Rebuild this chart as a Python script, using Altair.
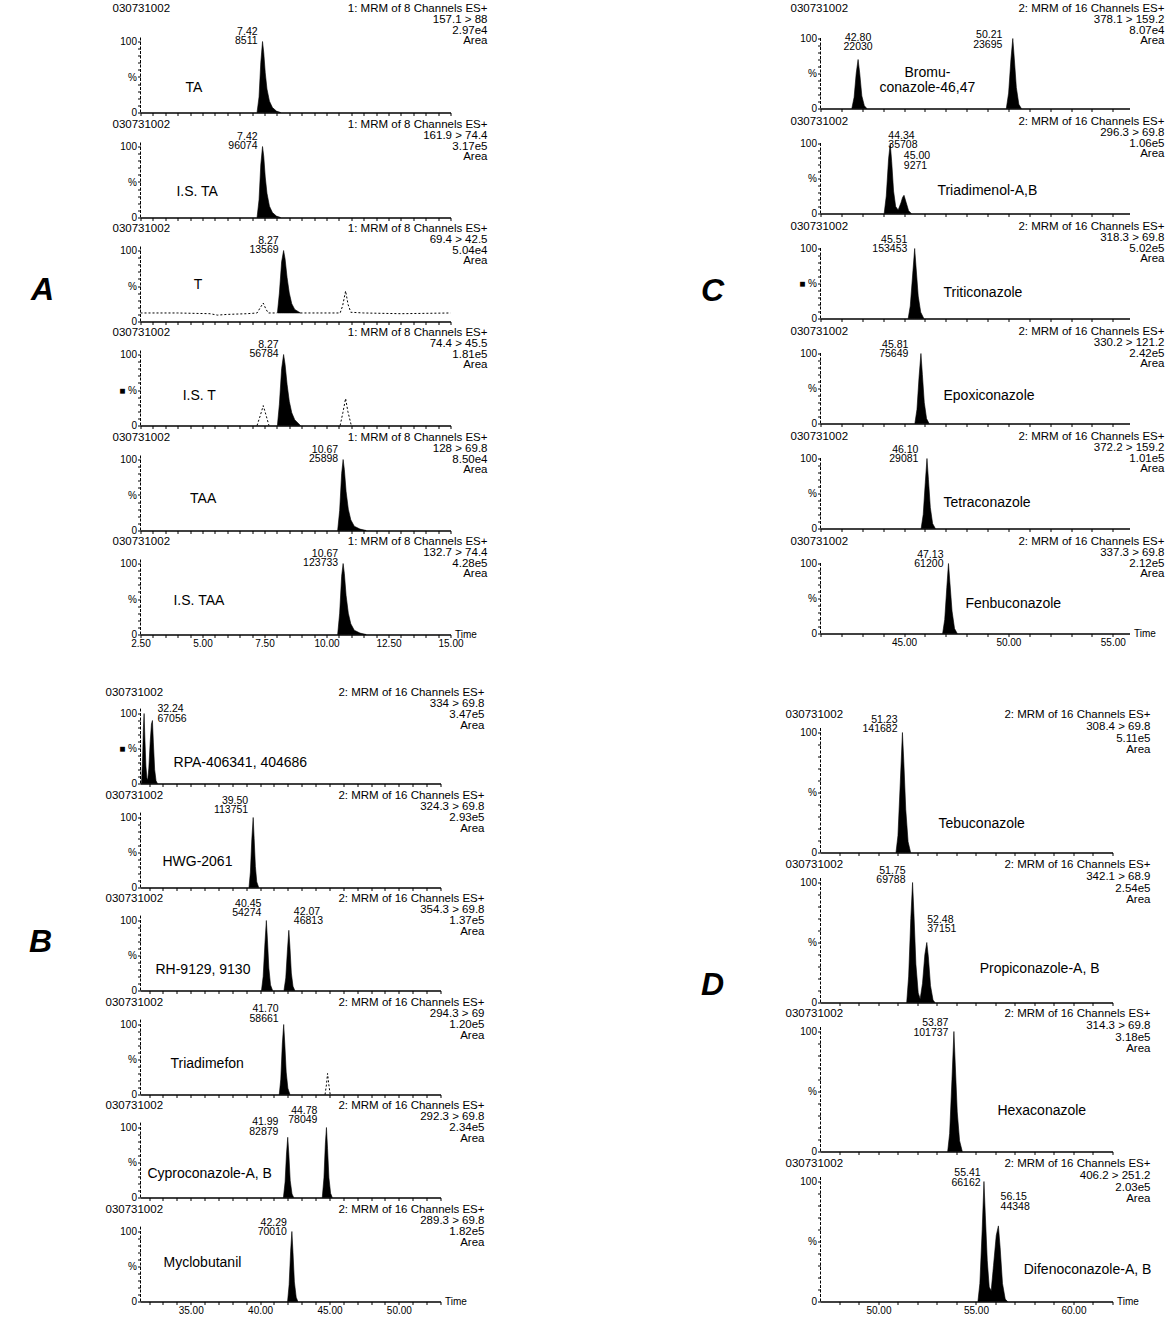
import math

import altair as alt
import pandas as pd

FONT = "Liberation Sans"
SAMPLE_ID = "030731002"
FUNCTION_8 = "1: MRM of 8 Channels ES+"
FUNCTION_16 = "2: MRM of 16 Channels ES+"

# ---------------- group A: triazole metabolites (function 1) ----------------
A_NAMES = ["TA", "I.S. TA", "T", "I.S. T", "TAA", "I.S. TAA"]
A_TRANSITIONS = ["157.1 > 88", "161.9 > 74.4", "69.4 > 42.5", "74.4 > 45.5", "128 > 69.8", "132.7 > 74.4"]
A_INTENSITIES = ["2.97e4", "3.17e5", "5.04e4", "1.81e5", "8.50e4", "4.28e5"]
A_PEAKS = [[(7.42, 8511)], [(7.42, 96074)], [(8.27, 13569)], [(8.27, 56784)],
           [(10.67, 25898)], [(10.67, 123733)]]
A_BASE = [0, 0, 12, 0, 0, 0]
A_TRACES = [
    [[(7.20, 0), (7.28, 22), (7.35, 70), (7.42, 100), (7.47, 84), (7.53, 56), (7.60, 33), (7.70, 16), (7.82, 7), (7.98, 2), (8.15, 0)]],
    [[(7.20, 0), (7.28, 25), (7.35, 74), (7.42, 100), (7.47, 86), (7.53, 57), (7.60, 34), (7.70, 16), (7.82, 7), (7.98, 2), (8.15, 0)]],
    [[(8.02, 12), (8.10, 40), (8.19, 84), (8.27, 100), (8.33, 88), (8.41, 62), (8.50, 40), (8.60, 25), (8.72, 17), (8.95, 12)]],
    [[(8.02, 0), (8.10, 30), (8.19, 80), (8.27, 100), (8.33, 86), (8.41, 58), (8.50, 34), (8.60, 18), (8.72, 8), (8.95, 0)]],
    [[(10.45, 0), (10.53, 28), (10.61, 80), (10.67, 100), (10.72, 86), (10.79, 55), (10.88, 30), (10.98, 15), (11.12, 6), (11.35, 2), (11.60, 0)]],
    [[(10.45, 0), (10.53, 30), (10.61, 82), (10.67, 100), (10.72, 86), (10.79, 55), (10.88, 30), (10.98, 15), (11.12, 6), (11.35, 2), (11.60, 0)]],
]
A_DASHED = [
    [],
    [],
    [[(2.5, 12), (4.0, 12), (5.3, 11), (5.6, 9), (6.0, 10), (6.8, 11), (7.2, 12), (7.32, 19), (7.45, 26), (7.55, 18), (7.65, 12), (8.0, 12)],
     [(8.95, 12), (10.0, 12), (10.55, 12), (10.65, 22), (10.77, 43), (10.87, 24), (10.98, 13), (11.5, 12), (13.0, 11), (15.0, 12)]],
    [[(7.20, 0), (7.33, 14), (7.45, 28), (7.55, 16), (7.68, 0)],
     [(10.55, 0), (10.66, 18), (10.77, 38), (10.86, 20), (11.00, 0)]],
    [],
    [],
]

# ---------------- group B: function 2 ----------------
B_NAMES = ["RPA-406341, 404686", "HWG-2061", "RH-9129, 9130", "Triadimefon", "Cyproconazole-A, B", "Myclobutanil"]
B_TRANSITIONS = ["334 > 69.8", "324.3 > 69.8", "354.3 > 69.8", "294.3 > 69", "292.3 > 69.8", "289.3 > 69.8"]
B_INTENSITIES = ["3.47e5", "2.93e5", "1.37e5", "1.20e5", "2.34e5", "1.82e5"]
B_PEAKS = [[(32.24, 67056)], [(39.50, 113751)], [(40.45, 54274), (42.07, 46813)], [(41.70, 58661)],
           [(41.99, 82879), (44.78, 78049)], [(42.29, 70010)]]
B_BASE = [0, 0, 0, 0, 0, 0]
B_TRACES = [
    [[(31.45, 0), (31.53, 35), (31.59, 80), (31.64, 100), (31.70, 62), (31.77, 25), (31.84, 8), (31.90, 5), (31.98, 22), (32.08, 60), (32.17, 85), (32.24, 90), (32.31, 58), (32.40, 20), (32.50, 4), (32.60, 0)]],
    [[(39.20, 0), (39.30, 22), (39.40, 68), (39.50, 100), (39.57, 70), (39.66, 30), (39.76, 8), (39.90, 0)]],
    [[(40.10, 0), (40.22, 20), (40.35, 68), (40.45, 100), (40.53, 72), (40.63, 32), (40.75, 8), (40.90, 0)],
     [(41.72, 0), (41.85, 18), (41.97, 58), (42.07, 86), (42.15, 62), (42.25, 25), (42.37, 6), (42.50, 0)]],
    [[(41.38, 0), (41.49, 22), (41.60, 72), (41.70, 100), (41.78, 72), (41.88, 32), (42.00, 9), (42.15, 0)]],
    [[(41.68, 0), (41.80, 22), (41.90, 62), (41.99, 86), (42.07, 62), (42.17, 24), (42.30, 5), (42.42, 0)],
     [(44.48, 0), (44.60, 28), (44.70, 76), (44.78, 100), (44.86, 70), (44.96, 28), (45.08, 6), (45.20, 0)]],
    [[(41.98, 0), (42.09, 24), (42.20, 72), (42.29, 100), (42.37, 70), (42.47, 28), (42.60, 6), (42.72, 0)]],
]
B_DASHED = [[], [], [], [[(44.68, 0), (44.78, 14), (44.86, 30), (44.94, 16), (45.05, 0)]], [], []]

# ---------------- group C: function 2 ----------------
C_NAMES = ["Bromu-\nconazole-46,47", "Triadimenol-A,B", "Triticonazole", "Epoxiconazole", "Tetraconazole", "Fenbuconazole"]
C_TRANSITIONS = ["378.1 > 159.2", "296.3 > 69.8", "318.3 > 69.8", "330.2 > 121.2", "372.2 > 159.2", "337.3 > 69.8"]
C_INTENSITIES = ["8.07e4", "1.06e5", "5.02e5", "2.42e5", "1.01e5", "2.12e5"]
C_PEAKS = [[(42.80, 22030), (50.21, 23695)], [(44.34, 35708), (45.00, 9271)], [(45.51, 153453)],
           [(45.81, 75649)], [(46.10, 29081)], [(47.13, 61200)]]
C_BASE = [0, 0, 0, 0, 0, 0]
C_TRACES = [
    [[(42.50, 0), (42.61, 16), (42.71, 50), (42.80, 70), (42.88, 50), (42.98, 18), (43.10, 4), (43.22, 0)],
     [(49.90, 0), (50.01, 22), (50.12, 70), (50.21, 100), (50.28, 72), (50.38, 30), (50.50, 6), (50.62, 0)]],
    [[(44.05, 0), (44.15, 25), (44.26, 78), (44.34, 100), (44.41, 74), (44.50, 32), (44.60, 10), (44.72, 5), (44.85, 15), (44.93, 23), (45.00, 26), (45.10, 16), (45.22, 4), (45.35, 0)]],
    [[(45.20, 0), (45.30, 18), (45.42, 65), (45.51, 100), (45.58, 72), (45.68, 32), (45.80, 9), (45.95, 0)]],
    [[(45.52, 0), (45.62, 20), (45.72, 66), (45.81, 100), (45.88, 70), (45.97, 30), (46.08, 7), (46.20, 0)]],
    [[(45.82, 0), (45.92, 20), (46.02, 66), (46.10, 100), (46.17, 70), (46.26, 30), (46.37, 7), (46.50, 0)]],
    [[(46.85, 0), (46.95, 20), (47.05, 66), (47.13, 100), (47.20, 72), (47.30, 32), (47.42, 7), (47.55, 0)]],
]
C_DASHED = [[], [], [], [], [], []]

# ---------------- group D: function 2 ----------------
D_NAMES = ["Tebuconazole", "Propiconazole-A, B", "Hexaconazole", "Difenoconazole-A, B"]
D_TRANSITIONS = ["308.4 > 69.8", "342.1 > 68.9", "314.3 > 69.8", "406.2 > 251.2"]
D_INTENSITIES = ["5.11e5", "2.54e5", "3.18e5", "2.03e5"]
D_PEAKS = [[(51.23, 141682)], [(51.75, 69788), (52.48, 37151)], [(53.87, 101737)],
           [(55.41, 66162), (56.15, 44348)]]
D_BASE = [0, 0, 0, 0]
D_TRACES = [
    [[(50.90, 0), (51.00, 14), (51.12, 58), (51.23, 100), (51.30, 76), (51.40, 36), (51.52, 9), (51.65, 0)]],
    [[(51.45, 0), (51.55, 22), (51.66, 70), (51.75, 100), (51.82, 74), (51.92, 32), (52.04, 8), (52.14, 3), (52.26, 16), (52.38, 40), (52.48, 50), (52.56, 38), (52.67, 14), (52.80, 2), (52.90, 0)]],
    [[(53.55, 0), (53.65, 15), (53.77, 60), (53.87, 100), (53.94, 72), (54.04, 33), (54.16, 9), (54.30, 0)]],
    [[(55.10, 0), (55.20, 15), (55.32, 60), (55.41, 100), (55.48, 72), (55.58, 34), (55.68, 12), (55.78, 9), (55.90, 30), (56.04, 55), (56.15, 63), (56.24, 45), (56.36, 15), (56.50, 2), (56.62, 0)]],
]
D_DASHED = [[], [], [], []]

# ---------------- text placement (time, % of scale, alignment) ----------------
A_NAME_POS = [(4.31, 35, "left"), (3.95, 36, "left"), (4.65, 51, "left"), (4.20, 41, "left"), (4.50, 44, "left"), (3.83, 47, "left")]
B_NAME_POS = [(33.76, 30, "left"), (32.96, 37, "left"), (32.46, 29, "left"), (33.54, 43, "left"), (31.88, 33, "left"), (33.04, 55, "left")]
C_NAME_POS = [(46.12, 51, "center"), (46.60, 32, "left"), (46.89, 37, "left"), (46.89, 40, "left"), (46.89, 36, "left"), (47.94, 42, "left")]
D_NAME_POS = [(53.08, 24, "left"), (55.19, 28, "left"), (56.10, 34, "left"), (57.45, 26, "left")]

A_LABEL_POS = [[(7.22, 121, "right")], [(7.22, 121, "right")], [(8.07, 121, "right")],
               [(8.07, 121, "right")], [(10.47, 121, "right")], [(10.47, 121, "right")]]
B_LABEL_POS = [[(32.60, 113, "left")], [(39.14, 131, "right")], [(40.09, 131, "right"), (42.43, 120, "left")],
               [(41.34, 129, "right")], [(41.32, 115, "right"), (44.13, 131, "right")], [(41.93, 120, "right")]]
C_LABEL_POS = [[(42.80, 108, "center"), (49.71, 112, "right")], [(44.25, 118, "left"), (44.99, 89, "left")],
               [(45.16, 120, "right")], [(45.21, 120, "right")], [(45.69, 120, "right")], [(46.89, 120, "right")]]
D_LABEL_POS = [[(50.98, 115, "right")], [(51.39, 114, "right"), (52.50, 73, "left")],
               [(53.59, 111, "right")], [(55.24, 111, "right"), (56.26, 91, "left")]]

GROUPS = {
    "A": dict(names=A_NAMES, transitions=A_TRANSITIONS, intensities=A_INTENSITIES, peaks=A_PEAKS,
              base=A_BASE, traces=A_TRACES, dashed=A_DASHED, name_pos=A_NAME_POS, label_pos=A_LABEL_POS,
              function=FUNCTION_8),
    "B": dict(names=B_NAMES, transitions=B_TRANSITIONS, intensities=B_INTENSITIES, peaks=B_PEAKS,
              base=B_BASE, traces=B_TRACES, dashed=B_DASHED, name_pos=B_NAME_POS, label_pos=B_LABEL_POS,
              function=FUNCTION_16),
    "C": dict(names=C_NAMES, transitions=C_TRANSITIONS, intensities=C_INTENSITIES, peaks=C_PEAKS,
              base=C_BASE, traces=C_TRACES, dashed=C_DASHED, name_pos=C_NAME_POS, label_pos=C_LABEL_POS,
              function=FUNCTION_16),
    "D": dict(names=D_NAMES, transitions=D_TRANSITIONS, intensities=D_INTENSITIES, peaks=D_PEAKS,
              base=D_BASE, traces=D_TRACES, dashed=D_DASHED, name_pos=D_NAME_POS, label_pos=D_LABEL_POS,
              function=FUNCTION_16),
}

# panel geometry per block: time window, plot width, px per 100 %, top of the y axis line (%),
# page y of each baseline, header line offsets (px from the 100 % line), tick spacing
BLOCKS = {
    "A": dict(xdom=(2.5, 15.0), width=310, h100=71, axis_top=107, step=0.5, major=2.5,
              baselines=[112.5, 216.8, 321.1, 425.4, 529.7, 634.0],
              head=[-22, -11, 0, 10], head_left=-28, head_right=37),
    "B": dict(xdom=(31.38, 53.0), width=300, h100=70, axis_top=107, step=1.0, major=5,
              baselines=[783.0, 886.6, 990.2, 1093.8, 1197.4, 1301.0],
              head=[-22, -11, 0, 11], head_left=-35, head_right=44),
    "C": dict(xdom=(41.0, 55.8), width=309, h100=70, axis_top=102, step=1.0, major=5,
              baselines=[107.5, 212.6, 317.7, 422.8, 527.9, 633.0],
              head=[-22, -11, 0, 10], head_left=-30, head_right=35),
    "D": dict(xdom=(47.03, 62.0), width=292, h100=120, axis_top=104, step=1.0, major=5,
              baselines=[852.0, 1001.5, 1151.0, 1300.5],
              head=[-18, -6, 6, 17], head_left=-35, head_right=38),
}
HEAD_OVERRIDE = {("A", 0): [-33, -22, -11, -1], ("B", 0): [-21, -10, 1, 12], ("C", 0): [-30, -19, -8, 2]}
COLUMN_TOP = 28.0
ROW_GAP = 10
SQUARE_MARK = {("A", 3), ("B", 0), ("C", 2)}
LETTERS = {("A", 2): ("A", -1.45, 44), ("B", 2): ("B", 24.18, 70),
           ("C", 2): ("C", 35.83, 40), ("D", 1): ("D", 41.49, 15)}


def tick_values(lo, hi, step):
    n0 = math.ceil(lo / step - 1e-9)
    n1 = math.floor(hi / step + 1e-9)
    return [round(n * step, 2) for n in range(n0, n1 + 1)]


def segments_frame(segs, base):
    rows = []
    for s, seg in enumerate(segs):
        for t, v in seg:
            rows.append({"t": t, "v": v, "b": base, "seg": s})
    return pd.DataFrame(rows, columns=["t", "v", "b", "seg"])


def panel(key, i, height, last):
    g, blk = GROUPS[key], BLOCKS[key]
    x0, x1 = blk["xdom"]
    kx = blk["width"] / (x1 - x0)
    h100 = blk["h100"]
    ymax = height / h100 * 100
    xs = alt.Scale(domain=[x0, x1], nice=False, zero=False)
    ys = alt.Scale(domain=[0, ymax], nice=False, zero=False)

    def y_at(px):
        return 100 - px * 100 / h100

    major = blk["major"]
    x_kw = dict(
        values=tick_values(x0, x1, blk["step"]),
        labelExpr=f"datum.value % {major} === 0 ? format(datum.value, '.2f') : ''",
        labels=last, labelFlush=False, labelOverlap=False, labelFontSize=10, labelPadding=1,
        tickSize=3, tickColor="black", domainColor="black", domainWidth=1.5, grid=False,
        title="Time" if last else None,
    )
    if last:
        x_kw.update(titleX=blk["width"] + 4, titleY=0, titleAlign="left", titleBaseline="middle",
                    titleAngle=0, titleFontSize=10, titleFontWeight="normal")
    x_axis = alt.Axis(**x_kw)
    pct = "■ %" if (key, i) in SQUARE_MARK else "%"
    y_axis = alt.Axis(
        values=list(range(0, 101, 10)),
        labelExpr=f"datum.value === 100 ? '100' : datum.value === 50 ? '{pct}' : datum.value === 0 ? '0' : ''",
        tickSize=3, tickColor="black", domain=False,
        labelFontSize=10, labelPadding=1, labelOverlap=False, grid=False, title=None,
    )

    def xy():
        return dict(x=alt.X("t:Q", scale=xs, axis=x_axis), y=alt.Y("v:Q", scale=ys, axis=y_axis))

    layers = []
    # filled, integrated peaks
    layers.append(
        alt.Chart(segments_frame(g["traces"][i], g["base"][i]))
        .mark_area(color="black", stroke="black", strokeWidth=0.6, interpolate="linear")
        .encode(**xy(), y2="b:Q", detail="seg:N")
    )
    # intensity axis line, from 0 to just above 100 %
    layers.append(
        alt.Chart(pd.DataFrame([{"t": x0, "v": 0, "v2": blk["axis_top"]}]))
        .mark_rule(color="black", strokeWidth=1, strokeDash=[3, 1.5])
        .encode(**xy(), y2="v2:Q")
    )
    # unintegrated signal drawn as a broken outline
    if g["dashed"][i]:
        layers.append(
            alt.Chart(segments_frame(g["dashed"][i], 0))
            .mark_line(color="black", strokeWidth=1, strokeDash=[2, 2])
            .encode(**xy(), detail="seg:N")
        )
    # retention time / area labels
    by_align = {}
    for (rt, area), (lt, lv, al) in zip(g["peaks"][i], g["label_pos"][i]):
        by_align.setdefault(al, []).append({"t": lt, "v": lv, "s": f"{rt:.2f}\n{area}"})
    for al, rows in by_align.items():
        layers.append(
            alt.Chart(pd.DataFrame(rows))
            .mark_text(align=al, baseline="top", fontSize=10.5, lineBreak="\n", lineHeight=9.5)
            .encode(**xy(), text="s:N")
        )
    # compound name
    nt, nv, nal = g["name_pos"][i]
    layers.append(
        alt.Chart(pd.DataFrame([{"t": nt, "v": nv, "s": g["names"][i]}]))
        .mark_text(align=nal, baseline="middle", fontSize=14, lineBreak="\n", lineHeight=15)
        .encode(**xy(), text="s:N")
    )
    # header: sample id on the left, function / transition / intensity on the right
    head = HEAD_OVERRIDE.get((key, i), blk["head"])
    layers.append(
        alt.Chart(pd.DataFrame([{"t": x0 + blk["head_left"] / kx, "v": y_at(head[0]), "s": SAMPLE_ID}]))
        .mark_text(align="left", baseline="middle", fontSize=11.5)
        .encode(**xy(), text="s:N")
    )
    right_lines = [g["function"], g["transitions"][i], g["intensities"][i], "Area"]
    layers.append(
        alt.Chart(pd.DataFrame([{"t": x1 + blk["head_right"] / kx, "v": y_at(off), "s": s}
                                for off, s in zip(head, right_lines)]))
        .mark_text(align="right", baseline="middle", fontSize=11.5)
        .encode(**xy(), text="s:N")
    )
    if (key, i) in LETTERS:
        letter, lt, lv = LETTERS[(key, i)]
        layers.append(
            alt.Chart(pd.DataFrame([{"t": lt, "v": lv, "s": letter}]))
            .mark_text(align="center", baseline="middle", fontSize=32, fontWeight="bold", fontStyle="italic")
            .encode(**xy(), text="s:N")
        )
    return alt.layer(*layers).properties(width=blk["width"], height=height)


def column(keys):
    # whole-pixel panel heights, so the stacked panels do not drift
    charts = []
    prev = COLUMN_TOP - ROW_GAP
    for key in keys:
        base_list = BLOCKS[key]["baselines"]
        for i, b in enumerate(base_list):
            height = int(round(b - prev - ROW_GAP))
            charts.append(panel(key, i, height, i == len(base_list) - 1))
            prev = prev + ROW_GAP + height
    return alt.vconcat(*charts, spacing=ROW_GAP, bounds="flush").resolve_scale(
        x="independent", y="independent")


chart = (
    alt.hconcat(column(["A", "B"]), column(["C", "D"]), spacing=213)
    .resolve_scale(x="independent", y="independent")
    .properties(padding={"left": 28.5, "top": 1.5, "right": 0, "bottom": 0}, background="white")
    .configure_view(stroke=None)
    .configure_axis(labelFont=FONT, titleFont=FONT, labelColor="black", titleColor="black")
    .configure_text(font=FONT, color="black")
)

chart.save("out.html", embed_options={"renderer": "svg", "actions": False})
